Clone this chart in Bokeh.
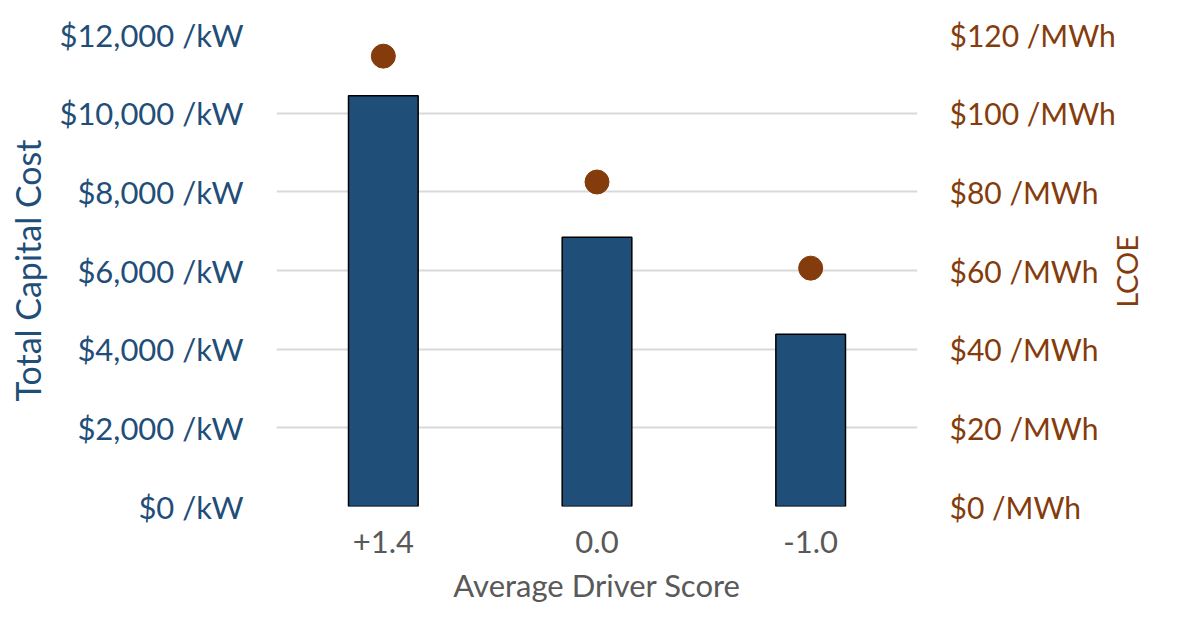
import math
from bokeh.plotting import figure
from bokeh.models import (Range1d, LinearAxis, FactorRange, FixedTicker, CustomJSTickFormatter,
                          ColumnDataSource)
from bokeh.embed import file_html
from bokeh.resources import INLINE

scores = ["+1.4", "0.0", "-1.0"]
capital_cost = [10440, 6845, 4380]      # $/kW
lcoe = [114.5, 82.5, 60.6]              # $/MWh
cost_ticks = [0, 2000, 4000, 6000, 8000, 10000, 12000]
lcoe_ticks = [0, 20, 40, 60, 80, 100, 120]

FONT = "Lato"
BLUE = "#1F4E79"
BROWN = "#843C0C"
GRAY = "#595959"

src = ColumnDataSource(dict(score=scores, cost=capital_cost, lcoe=lcoe))

p = figure(x_range=FactorRange(*scores, range_padding=0),
           y_range=Range1d(cost_ticks[0], cost_ticks[-1]),
           width=1164, height=606, output_backend="svg", toolbar_location=None,
           min_border_left=276, min_border_right=234, min_border_top=34, min_border_bottom=100)
p.extra_y_ranges = {"lcoe": Range1d(lcoe_ticks[0], lcoe_ticks[-1])}

p.vbar(x="score", top="cost", width=0.326, source=src, fill_color=BLUE,
       line_color="black", line_width=1.5)
p.scatter(x="score", y="lcoe", source=src, y_range_name="lcoe", size=24,
          fill_color=BROWN, line_color=BROWN)

p.outline_line_color = None
p.xgrid.grid_line_color = None
p.ygrid.grid_line_color = "#D9D9D9"
p.ygrid.grid_line_width = 2

yl = p.yaxis[0]
yl.ticker = FixedTicker(ticks=cost_ticks)
yl.formatter = CustomJSTickFormatter(code='return "$" + tick.toLocaleString("en-US") + " /kW";')
yl.axis_label = "Total Capital Cost"
yl.axis_label_text_font_size = "34px"
yl.axis_label_standoff = 8
yl.major_label_text_font_size = "31px"
yl.major_label_standoff = 33

# right tick labels
yr = LinearAxis(y_range_name="lcoe", ticker=FixedTicker(ticks=lcoe_ticks),
                formatter=CustomJSTickFormatter(code='return "$" + tick + " /MWh";'))
p.add_layout(yr, "right")
yr.major_label_text_font_size = "30px"
yr.major_label_standoff = 32

# right axis title "LCOE", drawn as a single rotated label (reads bottom to top);
# the text starts at its anchor, so the anchor sits half a label-length below mid-height
title_anchor = (lcoe_ticks[0] + lcoe_ticks[-1]) / 2 - 9.5
yt = LinearAxis(y_range_name="lcoe", ticker=FixedTicker(ticks=[title_anchor]),
                formatter=CustomJSTickFormatter(code='return "LCOE";'))
p.add_layout(yt, "right")
yt.major_label_orientation = math.pi / 2
yt.major_label_text_font_size = "29px"
yt.major_label_standoff = 8

xa = p.xaxis[0]
xa.axis_label = "Average Driver Score"
xa.major_label_text_font_size = "31px"
xa.axis_label_text_font_size = "31px"
xa.major_label_standoff = 24
xa.axis_label_standoff = 10

for ax, col in ((yl, BLUE), (yr, BROWN), (yt, BROWN), (xa, GRAY)):
    ax.axis_line_color = None
    ax.major_tick_line_color = None
    ax.minor_tick_line_color = None
    ax.major_tick_out = 0
    ax.major_tick_in = 0
    ax.minor_tick_out = 0
    ax.minor_tick_in = 0
    ax.major_label_text_color = col
    ax.axis_label_text_color = col
    ax.major_label_text_font = FONT
    ax.axis_label_text_font = FONT
    ax.axis_label_text_font_style = "normal"

open("out.html", "w").write(file_html(p, INLINE))
